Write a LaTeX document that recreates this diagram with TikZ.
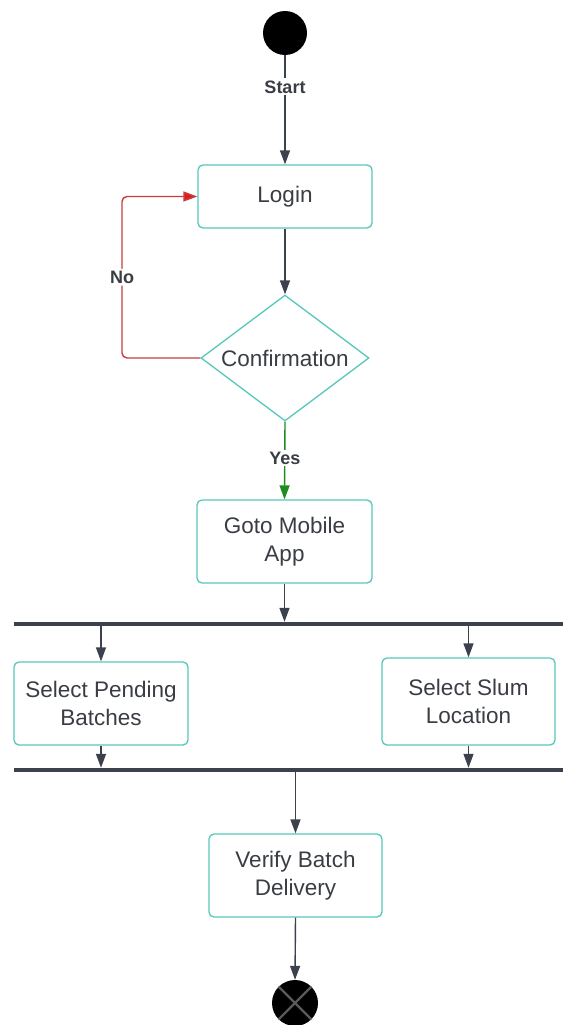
\documentclass[tikz,border=0pt]{standalone}
\usepackage{fontspec}
\setmainfont{Liberation Sans}
\usetikzlibrary{shapes.geometric,arrows.meta}
\definecolor{txt}{RGB}{58,62,68}
\definecolor{teal}{RGB}{86,200,186}
\definecolor{arr}{RGB}{60,65,78}
\definecolor{nored}{RGB}{200,60,60}
\definecolor{noredh}{RGB}{220,30,30}
\definecolor{yesgreen}{RGB}{30,140,30}
\tikzset{
  act/.style={draw=teal, line width=1.3pt, rounded corners=5pt, fill=white,
    text=txt, align=center, inner sep=0pt,
    font=\fontsize{22.5}{28}\selectfont},
  lbl/.style={fill=white, text=txt, inner sep=2pt, font=\bfseries\fontsize{18}{20}\selectfont},
  flow/.style={draw=arr, line width=1.4pt, -{Triangle[length=14pt,width=10pt]}},
  bar/.style={fill=arr, draw=none, minimum width=549pt, minimum height=4pt, inner sep=0pt},
}
\begin{document}
\begin{tikzpicture}[x=1pt,y=-1pt]
\useasboundingbox (0,0) rectangle (563,1025);
\fill[white] (0,0) rectangle (563,1025);

\node[circle, fill=black, minimum size=44pt, inner sep=0pt] (start) at (285,33) {};
\node[act, minimum width=174pt, minimum height=63pt] (login) at (285,196.5) {Login};
\node[diamond, draw=teal, line width=1.3pt, fill=white, text=txt, inner sep=0pt,
  aspect=1.33, minimum width=168pt, minimum height=126pt,
  font=\fontsize{22.5}{28}\selectfont] (conf) at (285,358) {Confirmation};
\node[act, minimum width=175pt, minimum height=83pt] (goto) at (284.5,541.5) {Goto Mobile\\App};
\node[bar] (fork) at (288.5,624) {};
\node[act, minimum width=174pt, minimum height=83pt] (pend) at (101,703.5) {Select Pending\\Batches};
\node[act, minimum width=173pt, minimum height=87pt] (slum) at (468.5,701.5) {Select Slum\\Location};
\node[bar] (join) at (288.5,770) {};
\node[act, minimum width=173pt, minimum height=83pt] (verify) at (295.5,875.5) {Verify Batch\\Delivery};
\node[circle, fill=black, minimum size=46pt, inner sep=0pt] (end) at (295,1003) {};
\draw[draw=black!65, line width=2.2pt] (end.north east) -- (end.south west) (end.north west) -- (end.south east);

\draw[flow] (start) -- node[lbl, pos=0.29] {Start} (login);
\draw[flow] (login) -- (conf);
\coordinate (nl) at (122,358);
\coordinate (nu) at (122,196.5);
\draw[draw=nored, line width=1.4pt, rounded corners=5pt, -{Triangle[length=14pt,width=10pt,fill=noredh]}] (conf.west) -- (nl) -- node[lbl, pos=0.5] {No} (nu) -- (login.west);
\draw[flow, draw=yesgreen, -{Triangle[length=14pt,width=10pt,fill=yesgreen]}] (conf.south) -- node[lbl, pos=0.47] {Yes} (goto.north);
\draw[flow] (goto.south) -- (goto.south |- fork.north);
\draw[flow] (fork.south -| pend.north) -- (pend.north);
\draw[flow] (fork.south -| slum.north) -- (slum.north);
\draw[flow] (pend.south) -- (pend.south |- join.north);
\draw[flow] (slum.south) -- (slum.south |- join.north);
\draw[flow] (join.south -| verify.north) -- (verify.north);
\draw[flow] (verify.south) -- (end.north);
\end{tikzpicture}
\end{document}
